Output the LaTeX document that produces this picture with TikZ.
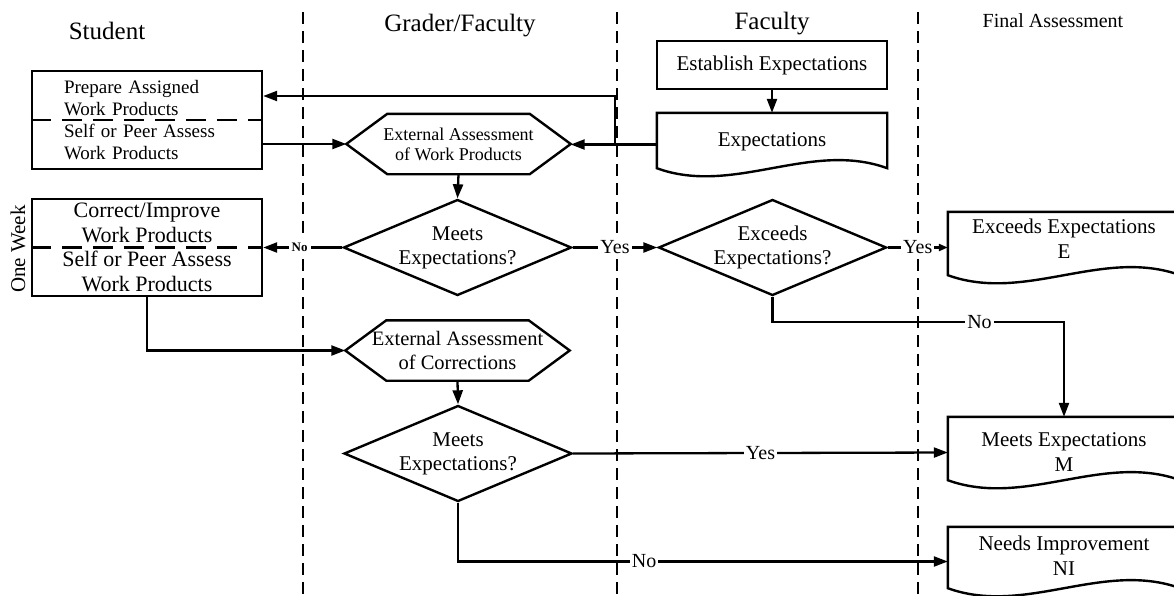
\documentclass[tikz,border=0pt]{standalone}
\usepackage{fontspec}
\setmainfont{Liberation Serif}
\usetikzlibrary{shapes.geometric,arrows.meta,calc}
\newcommand{\lanefont}{\fontsize{25}{28}\selectfont}
\newcommand{\stepfont}{\fontsize{21}{24}\selectfont}
\newcommand{\yesnofont}{\fontsize{20}{22}\selectfont}
\newcommand{\hexoutline}[1]{\draw[shapeline] (#1.west) -- ($(#1.north west)+(41,0)$) -- ($(#1.north east)+(-41,0)$) -- (#1.east) -- ($(#1.south east)+(-41,0)$) -- ($(#1.south west)+(41,0)$) -- cycle;}
\newcommand{\docoutline}[1]{\draw[shapeline] ($(#1.south west)+(0,-8)$) -- (#1.north west) -- (#1.north east) -- ($(#1.south east)+(0,-8)$) .. controls ($(#1.south east)!.333!(#1.south west)+(0,-36)$) and ($(#1.south west)!.333!(#1.south east)+(0,20)$) .. ($(#1.south west)+(0,-8)$) -- cycle;}

\begin{document}
\begin{tikzpicture}[x=1pt,y=-1pt,
  >={Triangle[length=14pt,width=10pt]},
  lane/.style={line width=2.5pt, dash pattern=on 12pt off 7pt},
  divider/.style={line width=2.4pt, dash pattern=on 20pt off 11pt},
  shapeline/.style={line width=2.4pt, line join=miter},
  conn/.style={line width=2.3pt, ->},
  lanetitle/.style={font=\lanefont},
  procbox/.style={draw, line width=2.4pt, minimum width=230pt, inner sep=0pt, align=center, font=\stepfont},
  decision/.style={diamond, draw, line width=2.4pt, aspect=2.37, minimum width=228pt, minimum height=96pt, inner sep=0pt, align=center, font=\stepfont},
  hexbox/.style={minimum width=224pt, minimum height=60pt, inner sep=0pt, align=center},
  docbox/.style={minimum width=232pt, minimum height=71pt, inner sep=0pt, align=center, font=\fontsize{21}{25}\selectfont},
  lbl/.style={fill=white, inner sep=2pt, font=\yesnofont}]
  \useasboundingbox (0,0) rectangle (1174,595);

  % swim lanes
  \foreach \x in {303,617,918}
    \draw[lane] (\x,12) -- (\x,595);
  \node[lanetitle] (tstudent) at (107,31) {Student};
  \node[lanetitle] (tgrader) at (460,26) {Grader/Faculty};
  \node[lanetitle] (tfaculty) at (772,24) {Faculty};
  \node[font=\fontsize{20}{22}\selectfont] (tfinal) at (1053,21) {Final Assessment};

  % student
  \node[procbox, minimum height=98pt, text width=166pt, align=left, font=\fontsize{19}{21.7}\selectfont] (prep) at (147,120)
    {Prepare Assigned\\Work Products\\Self or Peer Assess\\Work Products};
  \draw[divider] (prep.west) -- (prep.east);
  \node[procbox, minimum height=97pt, font=\fontsize{22}{24.5}\selectfont] (fix) at (147,247.5)
    {Correct/Improve\\Work Products\\Self or Peer Assess\\Work Products};
  \draw[divider] (fix.west) -- (fix.east);
  \node[rotate=90, font=\fontsize{21}{24}\selectfont] (week) at (18,249) {One Week};

  % grader/faculty
  \node[hexbox, font=\fontsize{18}{20}\selectfont] (hexa) at (458.5,144) {External Assessment\\of Work Products};
  \hexoutline{hexa}
  \node[decision] (meetsa) at (457.5,247.5) {Meets\\Expectations?};
  \node[hexbox, font=\fontsize{20.5}{24}\selectfont] (hexb) at (457.5,350.5) {External Assessment\\of Corrections};
  \hexoutline{hexb}
  \node[decision] (meetsb) at (458,453.5) {Meets\\Expectations?};

  % faculty
  \node[procbox, minimum height=48pt] (estab) at (772,65) {Establish Expectations};
  \node[docbox, minimum width=230pt, minimum height=63pt, text depth=10pt] (expdoc) at (772,144.5) {Expectations};
  \docoutline{expdoc}
  \node[decision] (exceeds) at (772.5,247.5) {Exceeds\\Expectations?};

  % final assessment
  \node[docbox, text depth=18pt] (edoc) at (1064,247.5) {Exceeds Expectations\\E};
  \docoutline{edoc}
  \node[docbox, text depth=0pt] (mdoc) at (1064,452.5) {Meets Expectations\\M};
  \docoutline{mdoc}
  \node[docbox, minimum height=69pt, text depth=11pt] (nidoc) at (1064,561.5) {Needs Improvement\\NI};
  \docoutline{nidoc}

  % flow
  \coordinate (fork) at (615,144.5);
  \draw[conn] (estab.south) -- (expdoc.north);
  \draw[conn] (expdoc.west) -- (expdoc.west -| hexa.east);
  \draw[conn] (fork) |- ([yshift=24pt]prep.east);
  \draw[conn] (hexa.west -| prep.east) -- (hexa.west);
  \draw[conn] (hexa.south) -- (meetsa.north);
  \draw[conn] (meetsa.east) -- node[lbl] {Yes} (exceeds.west);
  \draw[conn] (meetsa.west) -- node[fill=white, inner sep=3pt, pos=.54, font=\bfseries\fontsize{13}{15}\selectfont] {No} (fix.east);
  \draw[line width=2.3pt, -{Triangle[length=9pt,width=7pt]}] (exceeds.east) -- node[lbl] {Yes} (edoc.west);
  \draw[conn] (exceeds.south) -- ++(0,25) -| node[lbl, pos=.355] {No} (mdoc.north);
  \draw[conn] (fix.south) |- (hexb.west);
  \draw[conn] (hexb.south) -- (meetsb.north);
  \draw[conn] (meetsb.east) -- node[lbl] {Yes} (mdoc.west);
  \draw[conn] (meetsb.south) |- node[lbl, pos=.69] {No} (nidoc.west);
\end{tikzpicture}
\end{document}
